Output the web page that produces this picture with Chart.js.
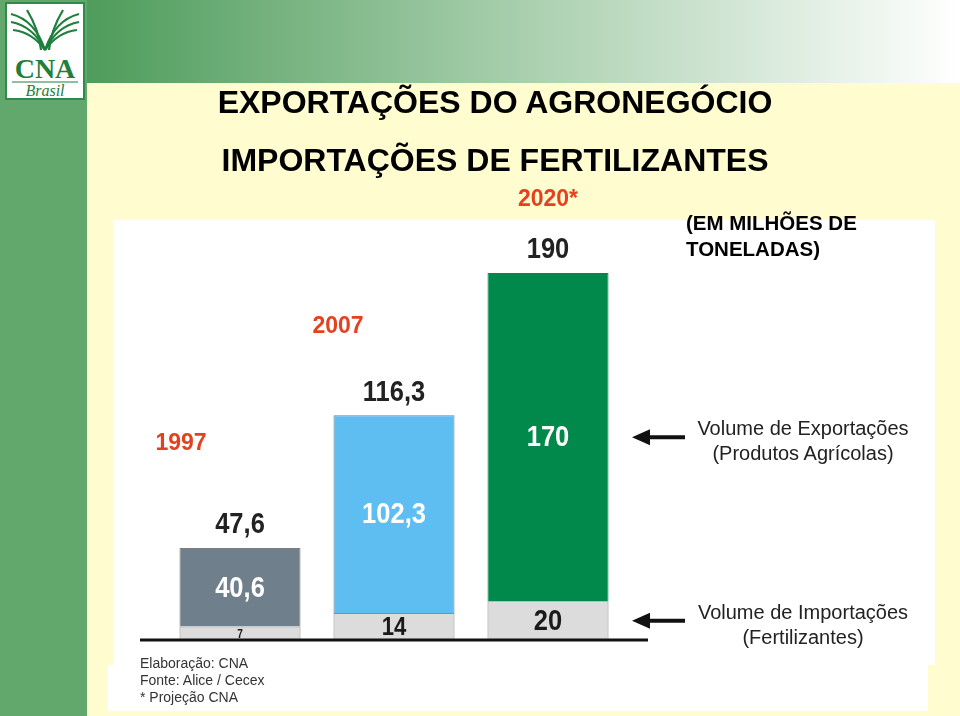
<!DOCTYPE html>
<html>
<head>
<meta charset="utf-8">
<script src="https://cdn.jsdelivr.net/npm/chart.js@4"></script>
<style>
  body { margin: 0; width: 960px; height: 716px; position: relative; overflow: hidden;
         background: #fffdd0; font-family: 'Liberation Sans', Arial, sans-serif; }
  .abs { position: absolute; }
  #strip { left: 0; top: 0; width: 87px; height: 716px; background: #62a86d; }
  #banner { left: 87px; top: 0; width: 873px; height: 83px;
            background: linear-gradient(to right, #4e9c5b 0%, #a9cfae 50%, #ffffff 100%); }
  #panel { left: 113px; top: 220px; width: 822px; height: 445px; background: #fff; }
  #panel2 { left: 108px; top: 665px; width: 820px; height: 46px; background: #fff; }
  #logo { left: 5px; top: 2px; }
  canvas { position: absolute; left: 0; top: 0; }
  .title { left: 0; width: 990px; text-align: center; font-weight: bold; font-size: 32px;
           line-height: 36px; color: #000; }
  #unit { left: 686px; top: 210px; font-weight: bold; font-size: 20.5px; line-height: 26px; color: #000; }
  .legend { left: 668px; width: 270px; text-align: center; font-size: 20px; line-height: 25px; color: #222; }
  #foot { left: 140px; top: 655px; font-size: 14px; line-height: 17px; color: #333; }
</style>
</head>
<body>
<div id="strip" class="abs"></div>
<div id="banner" class="abs"></div>
<div id="panel" class="abs"></div>
<div id="panel2" class="abs"></div>
<svg id="logo" class="abs" width="80" height="98" viewBox="0 0 80 98">
  <rect x="1" y="1" width="78" height="96" fill="#fff" stroke="#2e8b4a" stroke-width="2"/>
  <g fill="none" stroke="#1f7f3d" stroke-width="2.2">
    <path d="M40 48 Q30 18 6 12"/><path d="M40 48 Q28 24 6 20"/><path d="M40 48 Q27 30 8 28"/>
    <path d="M40 48 Q50 18 74 12"/><path d="M40 48 Q52 24 74 20"/><path d="M40 48 Q53 30 72 28"/>
    <path d="M36 48 Q34 28 22 8"/><path d="M44 48 Q46 28 58 8"/>
  </g>
  <text x="40" y="76" text-anchor="middle" font-family="Liberation Serif, serif" font-weight="bold"
        font-size="28" fill="#1f7f3d">CNA</text>
  <line x1="7" y1="80" x2="73" y2="80" stroke="#1f7f3d" stroke-width="1"/>
  <text x="40" y="94" text-anchor="middle" font-family="Liberation Serif, serif" font-style="italic"
        font-size="16" fill="#1f7f3d">Brasil</text>
</svg>

<canvas id="chart" width="960" height="716"></canvas>

<div class="abs title" style="top:84px">EXPORTAÇÕES DO AGRONEGÓCIO</div>
<div class="abs title" style="top:142px">IMPORTAÇÕES DE FERTILIZANTES</div>
<div id="unit" class="abs">(EM MILHÕES DE<br>TONELADAS)</div>
<div id="legExp" class="abs legend">Volume de Exportações<br>(Produtos Agrícolas)</div>
<div id="legImp" class="abs legend">Volume de Importações<br>(Fertilizantes)</div>
<div id="foot" class="abs">Elaboração: CNA<br>Fonte: Alice / Cecex<br>* Projeção CNA</div>

<script>
// milhões de toneladas
const years = ['1997', '2007', '2020*'];
const importVolume = [7, 14, 20];          // fertilizantes
const exportVolume = [40.6, 102.3, 170];   // produtos agrícolas

const exportColors = ['#6f808c', '#5ebef2', '#00894a'];

function fmt(v) {
    return String(Math.round(v * 10) / 10).replace('.', ',');
}

// condensed bold numbers (no narrow face installed, so squeeze horizontally)
function numText(ctx, txt, x, y, size, color) {
    ctx.save();
    ctx.translate(x, y);
    ctx.scale(0.85, 1);
    ctx.fillStyle = color;
    ctx.font = 'bold ' + size + "px 'Liberation Sans', Arial, sans-serif";
    ctx.fillText(txt, 0, 0);
    ctx.restore();
}

// where the year captions sit relative to each bar top
const yearDx = [-59, -56, 0];
const yearDy = [-104, -89, -73];

const labelsPlugin = {
    id: 'labels',
    afterDatasetsDraw(chart) {
        const ctx = chart.ctx;
        const imp = chart.getDatasetMeta(0).data;
        const exp = chart.getDatasetMeta(1).data;
        const baseY = chart.scales.y.getPixelForValue(0);

        ctx.save();
        // base line
        ctx.strokeStyle = '#111';
        ctx.lineWidth = 3;
        ctx.beginPath();
        ctx.moveTo(140, baseY);
        ctx.lineTo(648, baseY);
        ctx.stroke();

        ctx.textAlign = 'center';
        ctx.textBaseline = 'middle';
        years.forEach(function (yr, i) {
            const a = imp[i], b = exp[i];
            const h = a.base - a.y;
            const size = Math.max(10, Math.min(30, Math.floor(h - 1)));
            numText(ctx, fmt(importVolume[i]), a.x, (a.y + a.base) / 2 + 1, size, '#1a1a1a');
            numText(ctx, fmt(exportVolume[i]), b.x, (b.y + b.base) / 2 + 1, 30, '#ffffff');
            numText(ctx, fmt(importVolume[i] + exportVolume[i]), b.x, b.y - 23, 30, '#222222');
            ctx.fillStyle = '#e5401f';
            ctx.font = "bold 23px 'Liberation Sans', Arial, sans-serif";
            ctx.fillText(yr, b.x + yearDx[i], b.y + yearDy[i]);
        });

        // arrows pointing at last bar segments
        const last = years.length - 1;
        [exp[last], imp[last]].forEach(function (el) {
            const y = (el.y + el.base) / 2;
            ctx.strokeStyle = '#111';
            ctx.fillStyle = '#111';
            ctx.lineWidth = 4;
            ctx.beginPath();
            ctx.moveTo(645, y);
            ctx.lineTo(685, y);
            ctx.stroke();
            ctx.beginPath();
            ctx.moveTo(632, y);
            ctx.lineTo(650, y - 8);
            ctx.lineTo(650, y + 8);
            ctx.closePath();
            ctx.fill();
        });
        ctx.restore();
    }
};

const yMax = 200;
const chart = new Chart(document.getElementById('chart'), {
    type: 'bar',
    data: {
        labels: years,
        datasets: [
            {
                label: 'Volume de Importações (Fertilizantes)',
                data: importVolume,
                backgroundColor: '#dcdcdc',
                borderColor: '#8c8c8c',
                borderWidth: 1
            },
            {
                label: 'Volume de Exportações (Produtos Agrícolas)',
                data: exportVolume,
                backgroundColor: exportColors,
                borderColor: ['#7d7d7d', '#7d7d7d', '#00894a'],
                borderWidth: 1
            }
        ]
    },
    options: {
        responsive: false,
        animation: false,
        layout: { padding: { left: 163, right: 335, top: 640 - yMax * 367 / 190, bottom: 76 } },
        datasets: { bar: { categoryPercentage: 1, barPercentage: 0.786 } },
        scales: {
            x: { display: false, stacked: true },
            y: { display: false, stacked: true, min: 0, max: yMax }
        },
        plugins: { legend: { display: false }, tooltip: { enabled: false } }
    },
    plugins: [labelsPlugin]
});

// legend texts follow the arrows
const lastIdx = years.length - 1;
const eEl = chart.getDatasetMeta(1).data[lastIdx];
const iEl = chart.getDatasetMeta(0).data[lastIdx];
document.getElementById('legExp').style.top = ((eEl.y + eEl.base) / 2 - 21) + 'px';
document.getElementById('legImp').style.top = ((iEl.y + iEl.base) / 2 - 21) + 'px';
</script>
</body>
</html>
